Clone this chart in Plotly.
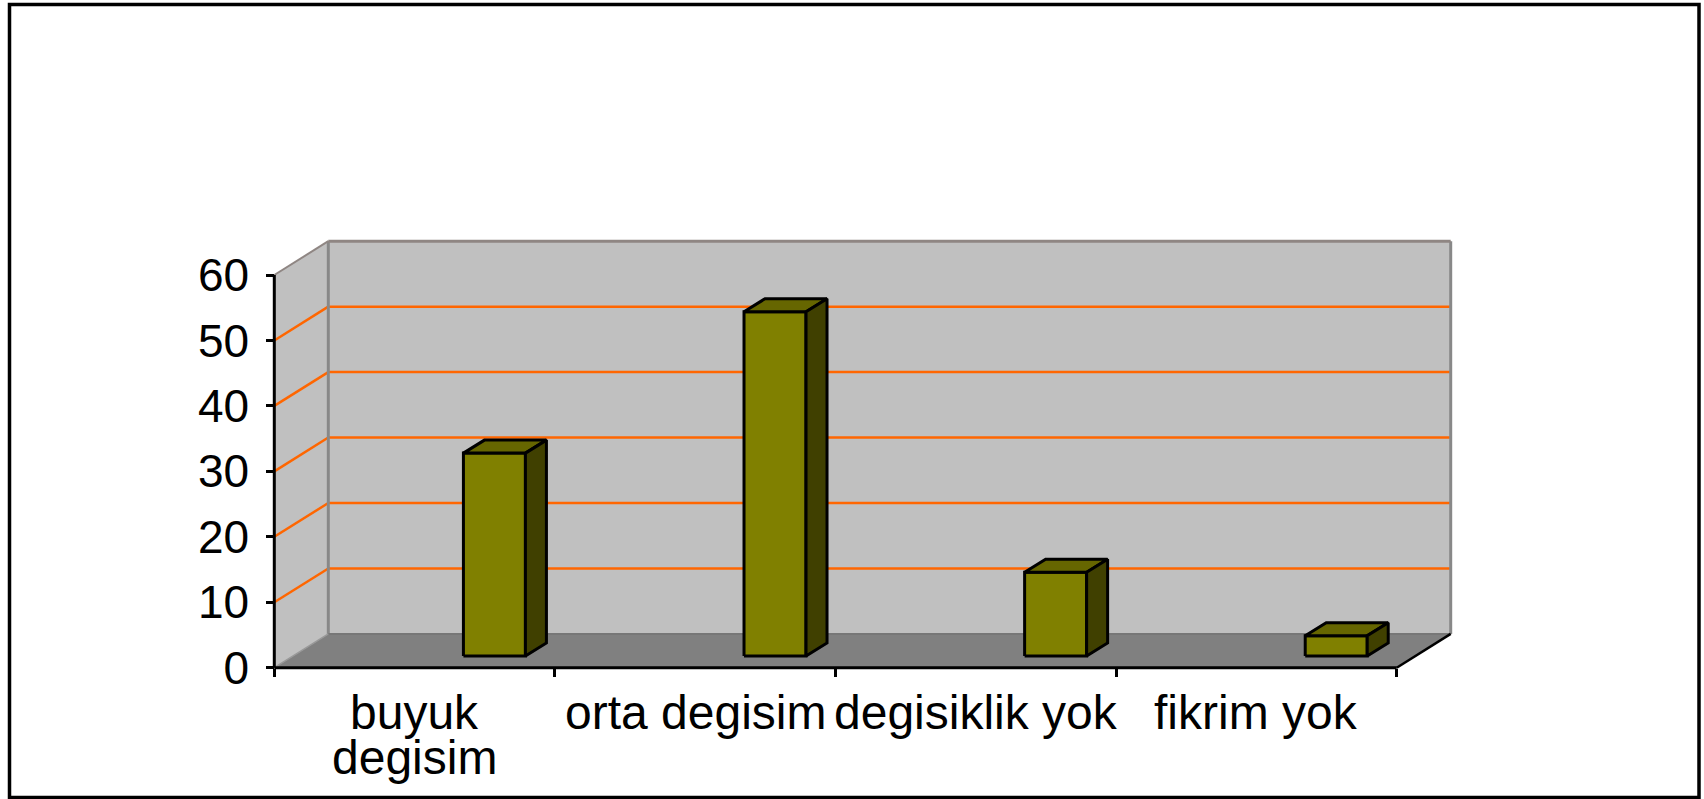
import plotly.graph_objects as go

# data
categories = ["buyuk degisim", "orta degisim", "degisiklik yok", "fikrim yok"]
label_lines = [["buyuk", "degisim"], ["orta degisim"], ["degisiklik yok"], ["fikrim yok"]]
values = [31.0, 52.6, 12.8, 3.1]
y_ticks = [0, 10, 20, 30, 40, 50, 60]

W, H = 1704, 799
# pixel mapping of the front plane (x: category units, y: value units)
PX_X0, PX_X4 = 274.3, 1396.7
PX_Y0, PX_Y60 = 667.7, 275.0
ux = (PX_X4 - PX_X0) / 4
uy = (PX_Y0 - PX_Y60) / 60
xr0 = -PX_X0 / ux
yr0 = -(H - PX_Y0) / uy
x_range = [xr0, xr0 + W / ux]
y_range = [yr0, yr0 + H / uy]

# 3d box depth and bar geometry (data units)
DX, DY = 54 / ux, 33.8 / uy
BX0, BW = 0.674, 62 / ux
BY0 = 11.7 / uy
BDX, BDY = 21 / ux, 13 / uy
NC = len(categories)
TOP = max(y_ticks)

WALL = "#C0C0C0"
FLOOR = "#808080"
EDGE = "#888888"
GRID = "#FF6600"
FRONT, TOPC, SIDE = "#808000", "#666600", "#404000"

fig = go.Figure()
shapes = []


def poly(pts, fill, line_color, lw):
    path = "M " + " L ".join(f"{x},{y}" for x, y in pts) + " Z"
    return dict(type="path", path=path, xref="x", yref="y", fillcolor=fill,
                line=dict(color=line_color, width=lw), layer="below")


def seg(x0, y0, x1, y1, color, lw):
    return dict(type="line", x0=x0, y0=y0, x1=x1, y1=y1, xref="x", yref="y",
                line=dict(color=color, width=lw), layer="below")


# walls and floor
shapes.append(poly([(0, 0), (0, TOP), (DX, TOP + DY), (DX, DY)], WALL, WALL, 0))
shapes.append(poly([(DX, DY), (DX, TOP + DY), (NC + DX, TOP + DY), (NC + DX, DY)], WALL, WALL, 0))
shapes.append(poly([(0, 0), (NC, 0), (NC + DX, DY), (DX, DY)], FLOOR, FLOOR, 0))

# gridlines
for v in y_ticks[1:-1]:
    shapes.append(seg(0, v, DX, v + DY, GRID, 2.5))
    shapes.append(seg(DX, v + DY, NC + DX, v + DY, GRID, 2.5))

# wall edges
shapes.append(seg(DX, DY, DX, TOP + DY, EDGE, 3))
shapes.append(seg(NC + DX, DY, NC + DX, TOP + DY, EDGE, 3))
shapes.append(seg(DX, TOP + DY, NC + DX, TOP + DY, "#8f8683", 3))
shapes.append(seg(0, TOP, DX, TOP + DY, "#8f8683", 2))
shapes.append(seg(DX, DY, NC + DX, DY, "#777777", 2))
shapes.append(seg(0, 0, DX, DY, "#999999", 1.5))

# bars
for i, v in enumerate(values):
    x0 = i + BX0
    x1 = x0 + BW
    y0, y1 = BY0, BY0 + v
    faces = [
        ([x0, x1, x1, x0, x0], [y0, y0, y1, y1, y0], FRONT),
        ([x0, x1, x1 + BDX, x0 + BDX, x0], [y1, y1, y1 + BDY, y1 + BDY, y1], TOPC),
        ([x1, x1 + BDX, x1 + BDX, x1, x1], [y0, y0 + BDY, y1 + BDY, y1, y0], SIDE),
    ]
    for fx, fy, col in faces:
        fig.add_trace(go.Scatter(x=fx, y=fy, mode="lines", fill="toself",
                                 fillcolor=col, line=dict(color="black", width=3),
                                 hoverinfo="skip", showlegend=False))

# axis lines (front edges)
fig.add_trace(go.Scatter(x=[0, 0], y=[0, TOP], mode="lines",
                         line=dict(color="black", width=3), hoverinfo="skip", showlegend=False))
fig.add_trace(go.Scatter(x=[0, NC], y=[0, 0], mode="lines",
                         line=dict(color="black", width=3), hoverinfo="skip", showlegend=False))
fig.add_trace(go.Scatter(x=[NC, NC + DX], y=[0, DY], mode="lines",
                         line=dict(color="black", width=2.5), hoverinfo="skip", showlegend=False))

# outer border
shapes.append(dict(type="rect", xref="paper", yref="paper",
                   x0=9.5 / W, x1=1699 / W, y0=1 - 797.5 / H, y1=1 - 4.5 / H,
                   line=dict(color="black", width=3.5), layer="above"))

FONT = "Liberation Sans, Arial, sans-serif"
annotations = []
for i, lines in enumerate(label_lines):
    for k, txt in enumerate(lines):
        annotations.append(dict(x=i + 0.5, y=-(684 - PX_Y0) / uy, xref="x", yref="y",
                                text=txt, showarrow=False, yanchor="top",
                                yshift=-45 * k, font=dict(size=48, color="black", family=FONT)))

fig.update_layout(
    width=W, height=H,
    margin=dict(l=0, r=0, t=0, b=0),
    paper_bgcolor="white", plot_bgcolor="white",
    shapes=shapes, annotations=annotations,
    hovermode=False,
    font=dict(family=FONT, size=46, color="black"),
    xaxis=dict(range=x_range, anchor="free", position=(H - PX_Y0) / H,
               tickvals=list(range(NC + 1)), ticks="outside", ticklen=8, tickwidth=3,
               tickcolor="black", showticklabels=False, showgrid=False,
               zeroline=False, showline=False, fixedrange=True),
    yaxis=dict(range=y_range, anchor="free", position=PX_X0 / W,
               tickvals=y_ticks, ticks="outside", ticklen=8, tickwidth=3,
               tickcolor="black", ticklabelstandoff=8,
               tickfont=dict(size=46, color="black", family=FONT),
               showgrid=False, zeroline=False, showline=False, fixedrange=True),
)

# drop the default body margin so the figure sits at the window corner
fig.write_html("out.html", config={"displayModeBar": False},
               post_script="document.body.style.margin='0';")
